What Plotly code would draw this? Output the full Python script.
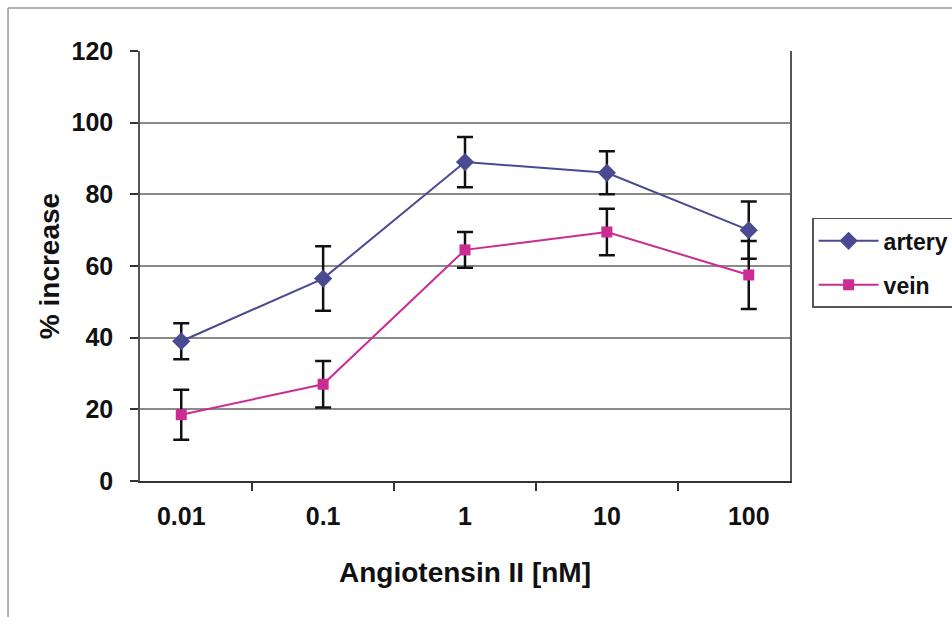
import plotly.graph_objects as go

# Angiotensin II concentrations (nM), shown as categories
doses = ["0.01", "0.1", "1", "10", "100"]

artery_mean = [39, 56.5, 89, 86, 70]
artery_err = [5, 9, 7, 6, 8]

vein_mean = [18.5, 27, 64.5, 69.5, 57.5]
vein_err = [7, 6.5, 5, 6.5, 9.5]

y_ticks = [0, 20, 40, 60, 80, 100, 120]

ARTERY = "#4a4a92"
VEIN = "#cc2b93"
FAMILY = "Arial, Liberation Sans, sans-serif"
TICK_FONT = dict(family=FAMILY, size=25, color="#111111", weight="bold")
TITLE_FONT = dict(family=FAMILY, size=28, color="#111111", weight="bold")
LEGEND_FONT = dict(family=FAMILY, size=23, color="#111111", weight="bold")

fig = go.Figure()

fig.add_trace(go.Scatter(
    x=doses, y=artery_mean, name="artery", mode="lines+markers",
    legendgroup="a",
    line=dict(color=ARTERY, width=2),
    marker=dict(symbol="diamond", size=14, color=ARTERY),
    error_y=dict(type="data", array=artery_err, visible=True,
                 color="#111111", thickness=2.5, width=8),
))
fig.add_trace(go.Scatter(
    x=doses, y=vein_mean, name="vein", mode="lines+markers",
    legendgroup="v",
    line=dict(color=VEIN, width=2),
    marker=dict(symbol="square", size=11, color=VEIN),
    error_y=dict(type="data", array=vein_err, visible=True,
                 color="#111111", thickness=2.5, width=8),
))

fig.update_layout(
    width=952, height=617,
    margin=dict(l=140, r=162, t=51, b=136, autoexpand=False),
    paper_bgcolor="white", plot_bgcolor="white",
    font=TICK_FONT,
    legend=dict(
        x=1.034, y=0.612, xanchor="left", yanchor="top",
        bordercolor="#555555", borderwidth=1.5, bgcolor="white",
        font=LEGEND_FONT, tracegroupgap=11, traceorder="grouped",
        itemwidth=60,
    ),
    xaxis=dict(
        type="category", tickson="boundaries",
        ticks="outside", ticklen=8, tickcolor="#333333", tickwidth=1.5,
        showline=True, linecolor="#333333", linewidth=1.5,
        showgrid=False, tickfont=TICK_FONT, ticklabelstandoff=12,
        title=dict(text="Angiotensin II [nM]", font=TITLE_FONT, standoff=34),
    ),
    yaxis=dict(
        range=[0, 120], tickvals=y_ticks,
        ticks="outside", ticklen=8, tickcolor="#333333", tickwidth=1.5,
        showline=True, linecolor="#555555", linewidth=1.5, mirror=True,
        showgrid=True, gridcolor="#8a8a8a", gridwidth=1.5,
        zeroline=False, tickfont=TICK_FONT, ticklabelstandoff=12,
        title=dict(text="% increase", font=TITLE_FONT, standoff=4),
    ),
    shapes=[
        # chart area frame (left and top edges)
        dict(type="line", xref="paper", yref="paper",
             x0=-0.203, x1=-0.203, y0=-0.4, y1=1.10,
             line=dict(color="#9a9a9a", width=1.5)),
        dict(type="line", xref="paper", yref="paper",
             x0=-0.203, x1=1.3, y0=1.10, y1=1.10,
             line=dict(color="#9a9a9a", width=1.5)),
    ],
)

fig.write_html("out.html")
